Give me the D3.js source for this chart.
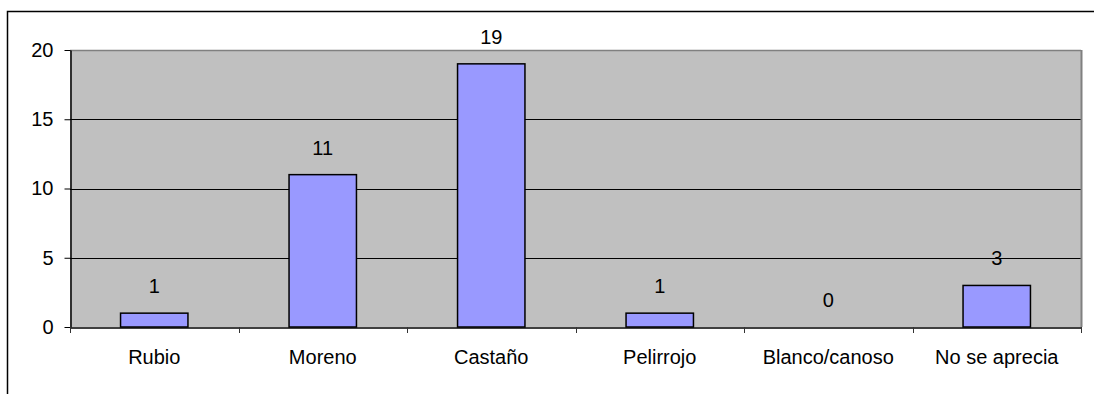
<!DOCTYPE html>
<html><head><meta charset="utf-8">
<script src="https://cdn.jsdelivr.net/npm/d3@7"></script>
<style>
html,body{margin:0;padding:0;background:#fff;}
svg text{font-family:"Liberation Sans",Arial,sans-serif;}
</style></head>
<body>
<svg id="c" width="1094" height="394"></svg>
<script>
const categories = ["Rubio","Moreno","Castaño","Pelirrojo","Blanco/canoso","No se aprecia"];
const values = [1,11,19,1,0,3];
const yTicks = [0,5,10,15,20];

(function(){
const svg = d3.select("#c");
const pL = 70, pR = 1081, pT = 50, pB = 327;

// outer frame
svg.append("path").attr("d", `M7.5,394 V11.5 H1094`).attr("fill","none").attr("stroke","#000").attr("stroke-width",1.5);

const x = d3.scaleBand().domain(categories).range([pL,pR]).paddingInner(0.6).paddingOuter(0.3);
const xEdge = d3.scaleBand().domain(categories).range([pL,pR]).padding(0);
const y = d3.scaleLinear().domain([0,20]).range([pB,pT]);

// plot area
svg.append("rect").attr("x",pL).attr("y",pT).attr("width",pR-pL).attr("height",pB-pT).attr("fill","#C0C0C0");
// gridlines
svg.append("g").selectAll("line").data(yTicks.filter(d=>d>0 && d<20)).join("line")
  .attr("x1",pL).attr("x2",pR).attr("y1",d=>Math.round(y(d))+0.5).attr("y2",d=>Math.round(y(d))+0.5)
  .attr("stroke","#000").attr("stroke-width",1);
// top & right border
svg.append("line").attr("x1",pL).attr("x2",pR).attr("y1",pT+0.5).attr("y2",pT+0.5).attr("stroke","#808080").attr("stroke-width",1.5);
svg.append("line").attr("x1",pR+0.5).attr("x2",pR+0.5).attr("y1",pT).attr("y2",pB).attr("stroke","#808080").attr("stroke-width",2);

// bars
svg.append("g").selectAll("rect").data(values).join("rect")
  .attr("x",(d,i)=>x(categories[i]))
  .attr("width",x.bandwidth())
  .attr("y",d=>y(d))
  .attr("height",d=>y(0)-y(d))
  .attr("fill","#9999FF").attr("stroke","#000").attr("stroke-width",1.5);

// value labels
svg.append("g").selectAll("text").data(values).join("text")
  .attr("x",(d,i)=>x(categories[i])+x.bandwidth()/2)
  .attr("y",d=>y(d)-20)
  .attr("text-anchor","middle").attr("font-size",20).attr("fill","#000")
  .text(d=>d);

// y axis
const yAxis = svg.append("g").attr("transform",`translate(${pL+0.5},0)`)
  .call(d3.axisLeft(y).tickValues(yTicks).tickSize(6).tickPadding(11).tickSizeOuter(0));
yAxis.select(".domain").attr("stroke","#000").attr("stroke-width",1.5);
yAxis.selectAll(".tick line").attr("stroke","#000");
yAxis.selectAll("text").attr("font-size",20).attr("fill","#000").attr("font-family","Liberation Sans, Arial, sans-serif");

// x axis
const xAxis = svg.append("g").attr("transform",`translate(0,${pB+0.5})`)
  .call(d3.axisBottom(xEdge).tickSize(0).tickPadding(0).tickSizeOuter(0));
xAxis.select(".domain").attr("stroke","#000").attr("stroke-width",1.5);
xAxis.selectAll("text").attr("font-size",20).attr("fill","#000").attr("dy",null).attr("y",36)
  .attr("font-family","Liberation Sans, Arial, sans-serif");
// boundary ticks
const edges = categories.map(c=>xEdge(c)).concat([pR]);
svg.append("g").selectAll("line").data(edges).join("line")
  .attr("x1",d=>Math.round(d)+0.5).attr("x2",d=>Math.round(d)+0.5)
  .attr("y1",pB).attr("y2",pB+6).attr("stroke","#333").attr("stroke-width",1);
})();
</script>
</body></html>
